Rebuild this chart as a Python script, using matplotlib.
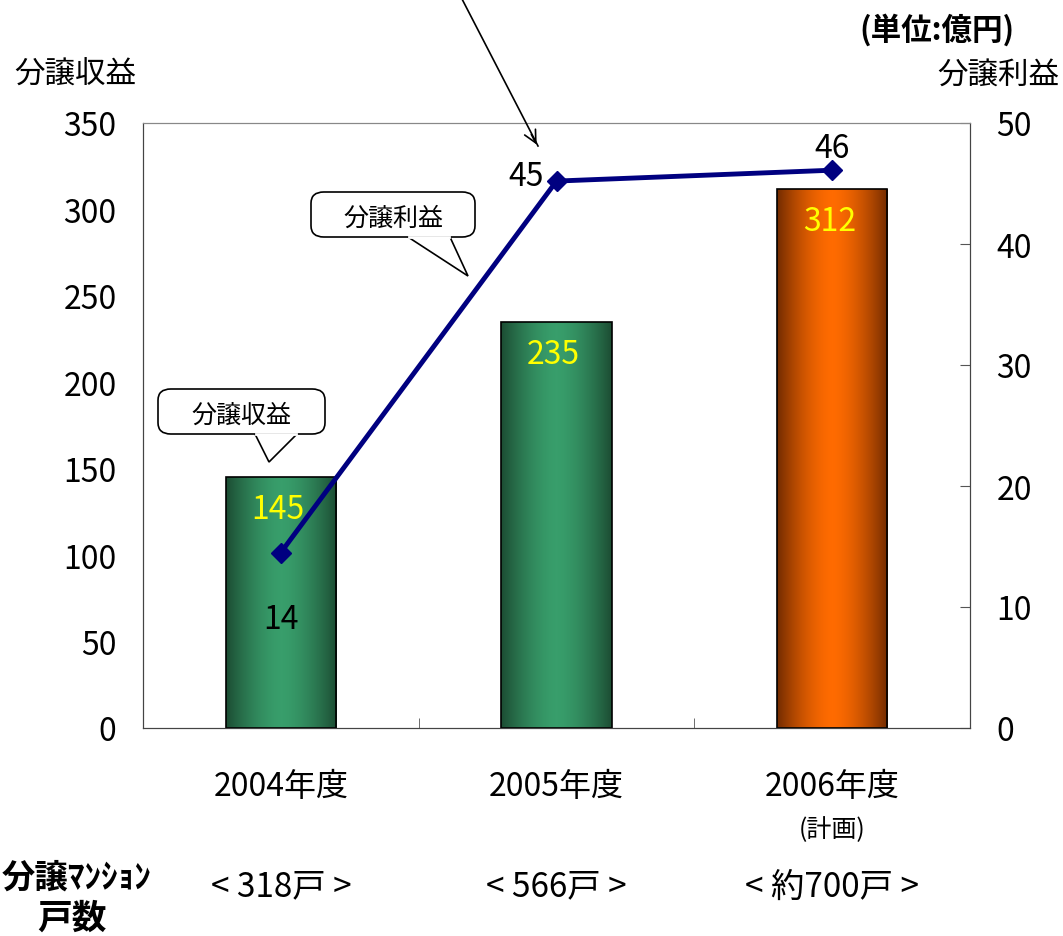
import matplotlib.pyplot as plt
import numpy as np
from matplotlib.patches import FancyBboxPatch, Polygon

# Data
years = ['2004年度', '2005年度', '2006年度']
units = ['< 318戸 >', '< 566戸 >', '< 約700戸 >']
revenue = [145, 235, 312]      # 分譲収益 (left axis)
profit = [14.5, 45.2, 46.1]    # 分譲利益 (right axis)
profit_labels = ['14', '45', '46']

plt.rcParams['font.family'] = ['Noto Sans CJK JP', 'DejaVu Sans']

W, H = 1063, 937
fig = plt.figure(figsize=(W / 100, H / 100), dpi=100)


def fx(x):
    return x / W


def fy(y):
    return 1 - y / H


ax = fig.add_axes([fx(143), fy(729), 827 / W, 605 / H])
ax2 = ax.twinx()

x = np.arange(len(years))
ax.set_xlim(-0.5, 2.5)
ax.set_ylim(0, 350)
ax2.set_ylim(0, 50)

# Bars with horizontal gradient
edge_cols = [(0.11, 0.30, 0.20), (0.11, 0.30, 0.20), (0.45, 0.17, 0.0)]
mid_cols = [(0.22, 0.62, 0.42), (0.22, 0.62, 0.42), (1.0, 0.42, 0.0)]
bw = 0.4
bars = ax.bar(x, revenue, width=bw, facecolor='none', edgecolor='black', linewidth=1.2, zorder=3)
t = np.abs(np.linspace(-1, 1, 200)) ** 1.6
for b, ec, mc in zip(bars, edge_cols, mid_cols):
    grad = np.array([[np.array(mc) * (1 - ti) + np.array(ec) * ti for ti in t]])
    im = ax.imshow(grad, extent=[b.get_x(), b.get_x() + bw, 0, b.get_height()],
                   aspect='auto', zorder=2)
    im.set_clip_path(b)
ax.set_xlim(-0.5, 2.5)
ax.set_ylim(0, 350)

for xi, v in zip(x, revenue):
    ax.annotate(str(v), (xi, v), xytext=(-2, -23), textcoords='offset points',
                ha='center', va='center', color='#ffff00', fontsize=23, zorder=5)

# Profit line
ax2.plot(x, profit, color='#000080', lw=3.5, marker='D', markersize=10, zorder=4)
offsets = [(0, -48), (-22, 4), (0, 16)]
for xi, v, lab, off in zip(x, profit, profit_labels, offsets):
    ax2.annotate(lab, (xi, v), xytext=off, textcoords='offset points',
                 ha='center', va='center', color='black', fontsize=23)

# Axes styling
ax.set_yticks(range(0, 351, 50))
ax2.set_yticks(range(0, 51, 10))
ax.tick_params(axis='y', length=0, pad=19, labelsize=23)
ax2.tick_params(axis='y', direction='in', length=7, color='#555555', pad=19, labelsize=23)
ax.set_xticks(x)
ax.set_xticklabels(years)
ax.tick_params(axis='x', length=0, pad=30, labelsize=23)
ax.set_xticks([0.5, 1.5], minor=True)
ax.tick_params(axis='x', which='minor', direction='in', length=7, color='#555555')
for a in (ax, ax2):
    a.spines['top'].set_color('#888888')
    a.spines['left'].set_color('#444444')
    a.spines['right'].set_color('#444444')
    a.spines['bottom'].set_color('#444444')

ax.text(2, -0.167, '(計画)', transform=ax.get_xaxis_transform(), ha='center', va='center', fontsize=18)
for xi, u in zip(x, units):
    ax.text(xi, -0.261, u, transform=ax.get_xaxis_transform(), ha='center', va='center', fontsize=24)

# Figure texts
fig.text(fx(75), fy(75), '分譲収益', ha='center', va='center', fontsize=22)
fig.text(fx(998), fy(75), '分譲利益', ha='center', va='center', fontsize=22)
fig.text(fx(937), fy(30), '(単位:億円)', ha='center', va='center', fontsize=22, fontweight='bold')
fig.text(fx(77), fy(878), '分譲ﾏﾝｼｮﾝ', ha='center', va='center', fontsize=24, fontweight='bold')
fig.text(fx(72), fy(918), '戸数', ha='center', va='center', fontsize=25, fontweight='bold')


# Callouts
def callout(text, x0, y0, x1, y1, tail):
    box = FancyBboxPatch((fx(x0), fy(y1)), fx(x1 - x0), (y1 - y0) / H,
                         boxstyle='round,pad=0,rounding_size=0.012',
                         transform=fig.transFigure, fc='white', ec='black', lw=1.2, zorder=10)
    fig.add_artist(box)
    pts = [(fx(px), fy(py)) for px, py in tail]
    fig.add_artist(Polygon(pts, closed=False, transform=fig.transFigure,
                           fc='white', ec='black', lw=1.2, zorder=11))
    fig.add_artist(plt.Line2D([pts[0][0] + 0.001, pts[-1][0] - 0.001], [pts[0][1], pts[-1][1]],
                              transform=fig.transFigure, color='white', lw=2, zorder=12))
    fig.text(fx((x0 + x1) / 2), fy((y0 + y1) / 2 + 3), text, ha='center', va='center',
             fontsize=18, zorder=13)


callout('分譲利益', 311, 193, 475, 238, [(408, 238), (468, 277), (450, 238)])
callout('分譲収益', 158, 390, 325, 435, [(255, 435), (269, 463), (297, 435)])

# Arrow from top
fig.add_artist(plt.Line2D([fx(462), fx(538)], [fy(0), fy(147)], transform=fig.transFigure,
                          color='black', lw=1.2))
ax.annotate('', xy=(fx(538), fy(148)), xytext=(fx(530), fy(133)), xycoords='figure fraction',
            arrowprops=dict(arrowstyle='->', color='black', lw=1.2, mutation_scale=22))

fig.savefig('out.png', dpi=100)
